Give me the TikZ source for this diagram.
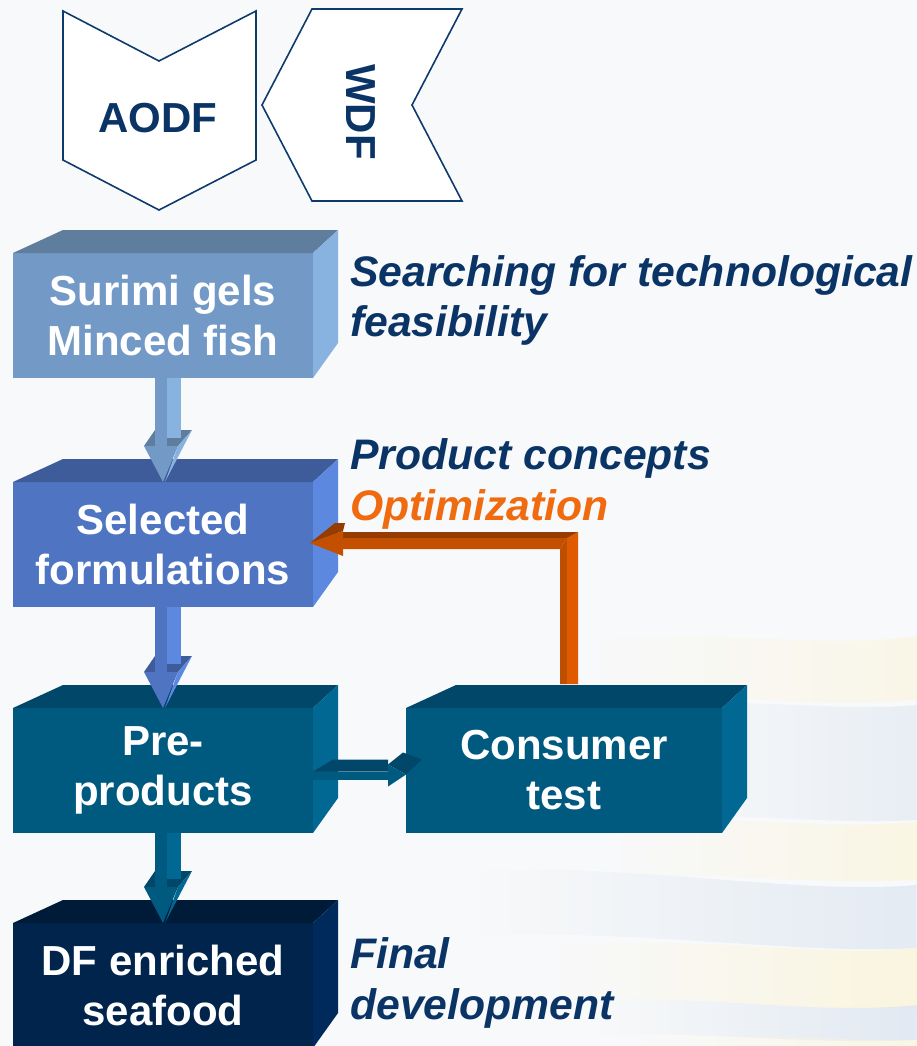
\documentclass[tikz,border=0pt]{standalone}
\usepackage{fontspec}
\setmainfont{Liberation Sans}
\usetikzlibrary{calc,fadings}

\definecolor{bgcol}{HTML}{F8F9FA}
\definecolor{navy}{HTML}{0B3466}
\definecolor{chevline}{HTML}{0D3B6E}
\definecolor{orangetxt}{HTML}{F06A0F}
% box palettes: front / top / side
\definecolor{surF}{HTML}{7399C6}\definecolor{surT}{HTML}{5F7D9D}\definecolor{surS}{HTML}{88B3E0}
\definecolor{selF}{HTML}{4E74C2}\definecolor{selT}{HTML}{3E5B9A}\definecolor{selS}{HTML}{5C88E0}
\definecolor{tealF}{HTML}{005A80}\definecolor{tealT}{HTML}{00476A}\definecolor{tealS}{HTML}{006892}
\definecolor{dfF}{HTML}{00244B}\definecolor{dfT}{HTML}{001B38}\definecolor{dfS}{HTML}{002A5C}
% feedback arrow
\definecolor{orTop}{HTML}{973C00}\definecolor{orFront}{HTML}{C44F00}
\definecolor{orDark}{HTML}{BE4E00}\definecolor{orLight}{HTML}{E05A00}
% sky bands
\definecolor{bandB}{HTML}{DCE5F0}\definecolor{bandY}{HTML}{FCF4D6}

\tikzfading[name=bandfade, left color=transparent!100, right color=transparent!0]

\tikzset{
  cube/.style={rectangle, minimum width=300pt, minimum height=125pt,
    inner sep=0pt, outer sep=0pt, text=white, align=center,
    font=\bfseries\fontsize{42}{50}\selectfont},
  chevron/.style={draw=chevline, line width=1.6pt, fill=white, line join=miter},
  chevtext/.style={text=navy, font=\bfseries\fontsize{42}{50}\selectfont, inner sep=0pt},
  sidetext/.style={text=navy, anchor=base west, inner sep=0pt,
    font=\bfseries\itshape\fontsize{42.7}{50}\selectfont},
}

% top and right faces of a box whose front face is node #1
\newcommand\cubefaces[3]{%
  \fill[#2] (#1.north west) -- ++(50,-23) -- ($(#1.north east)+(25,-23)$) -- (#1.north east) -- cycle;
  \fill[#3] (#1.north east) -- ++(25,-23) -- ($(#1.south east)+(25,-35)$) -- (#1.south east) -- cycle;
}

% downward block arrow from anchor #1 to anchor #2; colours front #3, side #4, top #5
\newcommand\downblock[5]{%
  \fill[#5] let \p1=(#1),\p2=(#2) in (\x1-19pt,\y2+36pt) -- (\x1-8pt,\y2+52pt) -- (\x1+29pt,\y2+52pt) -- (\x1+15pt,\y2+36pt) -- cycle;
  \fill[#3] let \p1=(#1),\p2=(#2) in (\x1-8pt,\y1) rectangle (\x1+4pt,\y2+36pt);
  \fill[#4] let \p1=(#1),\p2=(#2) in (\x1+4pt,\y1) rectangle (\x1+18pt,\y2+44pt);
  \fill[#4] let \p1=(#1),\p2=(#2) in (\x1+15pt,\y2+36pt) -- (\x1+29pt,\y2+52pt) -- (\x1+2pt,\y2) -- cycle;
  \fill[#3] let \p1=(#1),\p2=(#2) in (\x1-19pt,\y2+36pt) -- (\x1+15pt,\y2+36pt) -- (\x1,\y2) -- cycle;
}

\begin{document}
\begin{tikzpicture}[x=1pt,y=-1pt]
\useasboundingbox (0,0) rectangle (917,1046);
\fill[bgcol] (0,0) rectangle (917,1046);

% faint sky streaks in the lower right
\fill[bandY, opacity=0.5, path fading=bandfade] (600,640) .. controls (720,628) and (820,650) .. (917,636) -- (917,700) .. controls (800,708) and (720,692) .. (600,700) -- cycle;
\fill[bandB, opacity=0.55, path fading=bandfade] (660,705) .. controls (760,698) and (840,712) .. (917,705) -- (917,820) .. controls (830,825) and (740,812) .. (660,818) -- cycle;
\fill[bandY, opacity=0.6, path fading=bandfade] (620,820) .. controls (720,815) and (820,830) .. (917,822) -- (917,880) .. controls (800,885) and (700,870) .. (620,878) -- cycle;
\fill[bandB, opacity=0.7, path fading=bandfade] (480,870) .. controls (650,865) and (800,895) .. (917,885) -- (917,948) .. controls (800,955) and (650,930) .. (480,935) -- cycle;
\fill[bandY, opacity=0.75, path fading=bandfade] (560,945) .. controls (700,935) and (820,958) .. (917,948) -- (917,1008) .. controls (800,1012) and (700,995) .. (560,1000) -- cycle;
\fill[bandB, opacity=0.8, path fading=bandfade] (600,1000) .. controls (720,996) and (820,1015) .. (917,1005) -- (917,1040) .. controls (800,1045) and (700,1030) .. (600,1036) -- cycle;
\fill[bandY, opacity=0.6, path fading=bandfade] (640,1036) .. controls (760,1032) and (840,1042) .. (917,1040) -- (917,1046) -- (640,1046) -- cycle;

% input chevrons
\draw[chevron] (63,11) -- (159,61) -- (256,11) -- (256,160) -- (159,210) -- (63,160) -- cycle;
\node[chevtext] (aodf) at (158,118) {AODF};
\draw[chevron] (312,9) -- (462,9) -- (412,105) -- (462,201) -- (312,201) -- (262,105) -- cycle;
\node[chevtext, rotate=-90] (wdf) at (361,112) {WDF};

% process boxes
\node[cube, fill=surF] (surimi) at (163,315.5) {Surimi gels\\Minced fish};
\cubefaces{surimi}{surT}{surS}
\node[cube, fill=selF] (selected) at (163,544.5) {Selected\\formulations};
\cubefaces{selected}{selT}{selS}
\node[cube, fill=tealF] (pre) at (163,770.5) {Pre-\\products};
\cubefaces{pre}{tealT}{tealS}
\node[cube, fill=tealF, minimum width=316pt] (consumer) at (564,770.5) {Consumer\\test};
\cubefaces{consumer}{tealT}{tealS}
\node[cube, fill=dfF] (df) at (163,985.5) {DF enriched\\seafood};
\cubefaces{df}{dfT}{dfS}

% downward flow
\downblock{surimi.south}{selected.north}{surF}{surS}{surT}
\downblock{selected.south}{pre.north}{selF}{selS}{selT}
\downblock{pre.south}{df.north}{tealF}{tealS}{tealT}

% pre-products to consumer test
\fill[tealT] let \p1=(pre.east),\p2=(consumer.west) in (\x1,\y1-1pt) -- (\x1+20pt,\y1+11pt) -- (\x2-18pt,\y1+11pt) -- (\x2-18pt,\y1-1pt) -- cycle;
\fill[tealF] let \p1=(pre.east),\p2=(consumer.west) in (\x1,\y1-1pt) rectangle (\x2-18pt,\y1-9pt);
\fill[tealT] let \p1=(pre.east),\p2=(consumer.west) in (\x2-18pt,\y1+6pt) -- (\x2-3pt,\y1+18pt) -- (\x2+16pt,\y1+11pt) -- (\x2,\y1-4pt) -- cycle;
\fill[tealF] let \p1=(pre.east),\p2=(consumer.west) in (\x2-18pt,\y1+6pt) -- (\x2-18pt,\y1-16pt) -- (\x2,\y1-4pt) -- cycle;

% optimisation loop back to the selected formulations
\fill[orDark] let \p1=(consumer.north),\p2=(selected.east) in (\x1-4pt,\y2-4.5pt) -- (\x1+3pt,\y2+6.5pt) -- (\x1+3pt,\y1+24pt) -- (\x1-4pt,\y1+24pt) -- cycle;
\fill[orLight] let \p1=(consumer.north),\p2=(selected.east) in (\x1+3pt,\y2+6.5pt) -- (\x1+14pt,\y2+12.5pt) -- (\x1+14pt,\y1+24pt) -- (\x1+3pt,\y1+24pt) -- cycle;
\fill[orTop] let \p1=(consumer.north),\p2=(selected.east) in (\x2+30pt,\y2+12.5pt) -- (\x1+14pt,\y2+12.5pt) -- (\x1+3pt,\y2+6.5pt) -- (\x2+30pt,\y2+6.5pt) -- cycle;
\fill[orFront] let \p1=(consumer.north),\p2=(selected.east) in (\x2+30pt,\y2+6.5pt) -- (\x1+3pt,\y2+6.5pt) -- (\x1-4pt,\y2-4.5pt) -- (\x2+30pt,\y2-4.5pt) -- cycle;
\fill[orTop] let \p2=(selected.east) in (\x2-3pt,\y2+1.5pt) -- (\x2+22pt,\y2+21.5pt) -- (\x2+32pt,\y2+21.5pt) -- (\x2+30pt,\y2+13.5pt) -- cycle;
\fill[orFront] let \p2=(selected.east) in (\x2+30pt,\y2+13.5pt) -- (\x2+30pt,\y2-11.5pt) -- (\x2-3pt,\y2+1.5pt) -- cycle;

% stage descriptions
\node[sidetext] (tech1) at (350,286) {Searching for technological};
\node[sidetext] (tech2) at (350,336) {feasibility};
\node[sidetext] (concept) at (350,469) {Product concepts};
\node[sidetext, text=orangetxt] (optim) at (350,520) {Optimization};
\node[sidetext] (final1) at (350,968) {Final};
\node[sidetext] (final2) at (350,1019) {development};
\end{tikzpicture}
\end{document}
